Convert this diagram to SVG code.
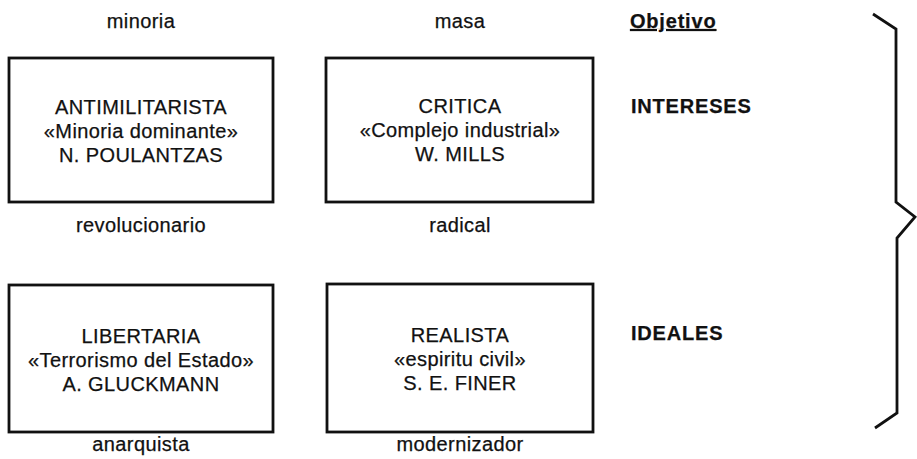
<svg xmlns="http://www.w3.org/2000/svg" width="917" height="459" viewBox="0 0 917 459">
<style>
text{font-family:"Liberation Sans",Arial,sans-serif;font-size:20px;letter-spacing:0.4px;fill:#111;stroke:#111;stroke-width:0.25;text-anchor:middle}
.b{font-weight:bold;text-anchor:start;letter-spacing:0.8px}
.box{fill:#fff;stroke:#111;stroke-width:2.8}
.brace{fill:none;stroke:#111;stroke-width:2.8;stroke-linejoin:miter}
</style>
<rect width="917" height="459" fill="#fff"/>
<g id="header">
<text x="141" y="28">minoria</text>
<text x="460" y="28">masa</text>
<text class="b" x="630" y="28" text-decoration="underline">Objetivo</text>
</g>
<g id="antimilitarista">
<rect class="box" x="9" y="58" width="264" height="144"/>
<text x="141" y="114">ANTIMILITARISTA</text>
<text x="141" y="138">«Minoria dominante»</text>
<text x="141" y="162">N. POULANTZAS</text>
</g>
<g id="critica">
<rect class="box" x="326" y="58" width="267" height="144"/>
<text x="460" y="113">CRITICA</text>
<text x="460" y="137">«Complejo industrial»</text>
<text x="460" y="161">W. MILLS</text>
</g>
<g id="row-labels-1">
<text x="141" y="232">revolucionario</text>
<text x="460" y="232">radical</text>
<text class="b" x="631" y="113">INTERESES</text>
</g>
<g id="libertaria">
<rect class="box" x="9" y="285" width="264" height="147"/>
<text x="141" y="343">LIBERTARIA</text>
<text x="141" y="367">«Terrorismo del Estado»</text>
<text x="141" y="391">A. GLUCKMANN</text>
</g>
<g id="realista">
<rect class="box" x="327" y="284" width="266" height="148"/>
<text x="460" y="342">REALISTA</text>
<text x="460" y="366">«espiritu civil»</text>
<text x="460" y="390">S. E. FINER</text>
</g>
<g id="row-labels-2">
<text x="141" y="451">anarquista</text>
<text x="460" y="451">modernizador</text>
<text class="b" x="631" y="340">IDEALES</text>
</g>
<g id="connectors">
<path class="brace" d="M873,14 L896,29 L896,202 L915,217 L897,238 L897,413 L875,428"/>
</g>
</svg>
